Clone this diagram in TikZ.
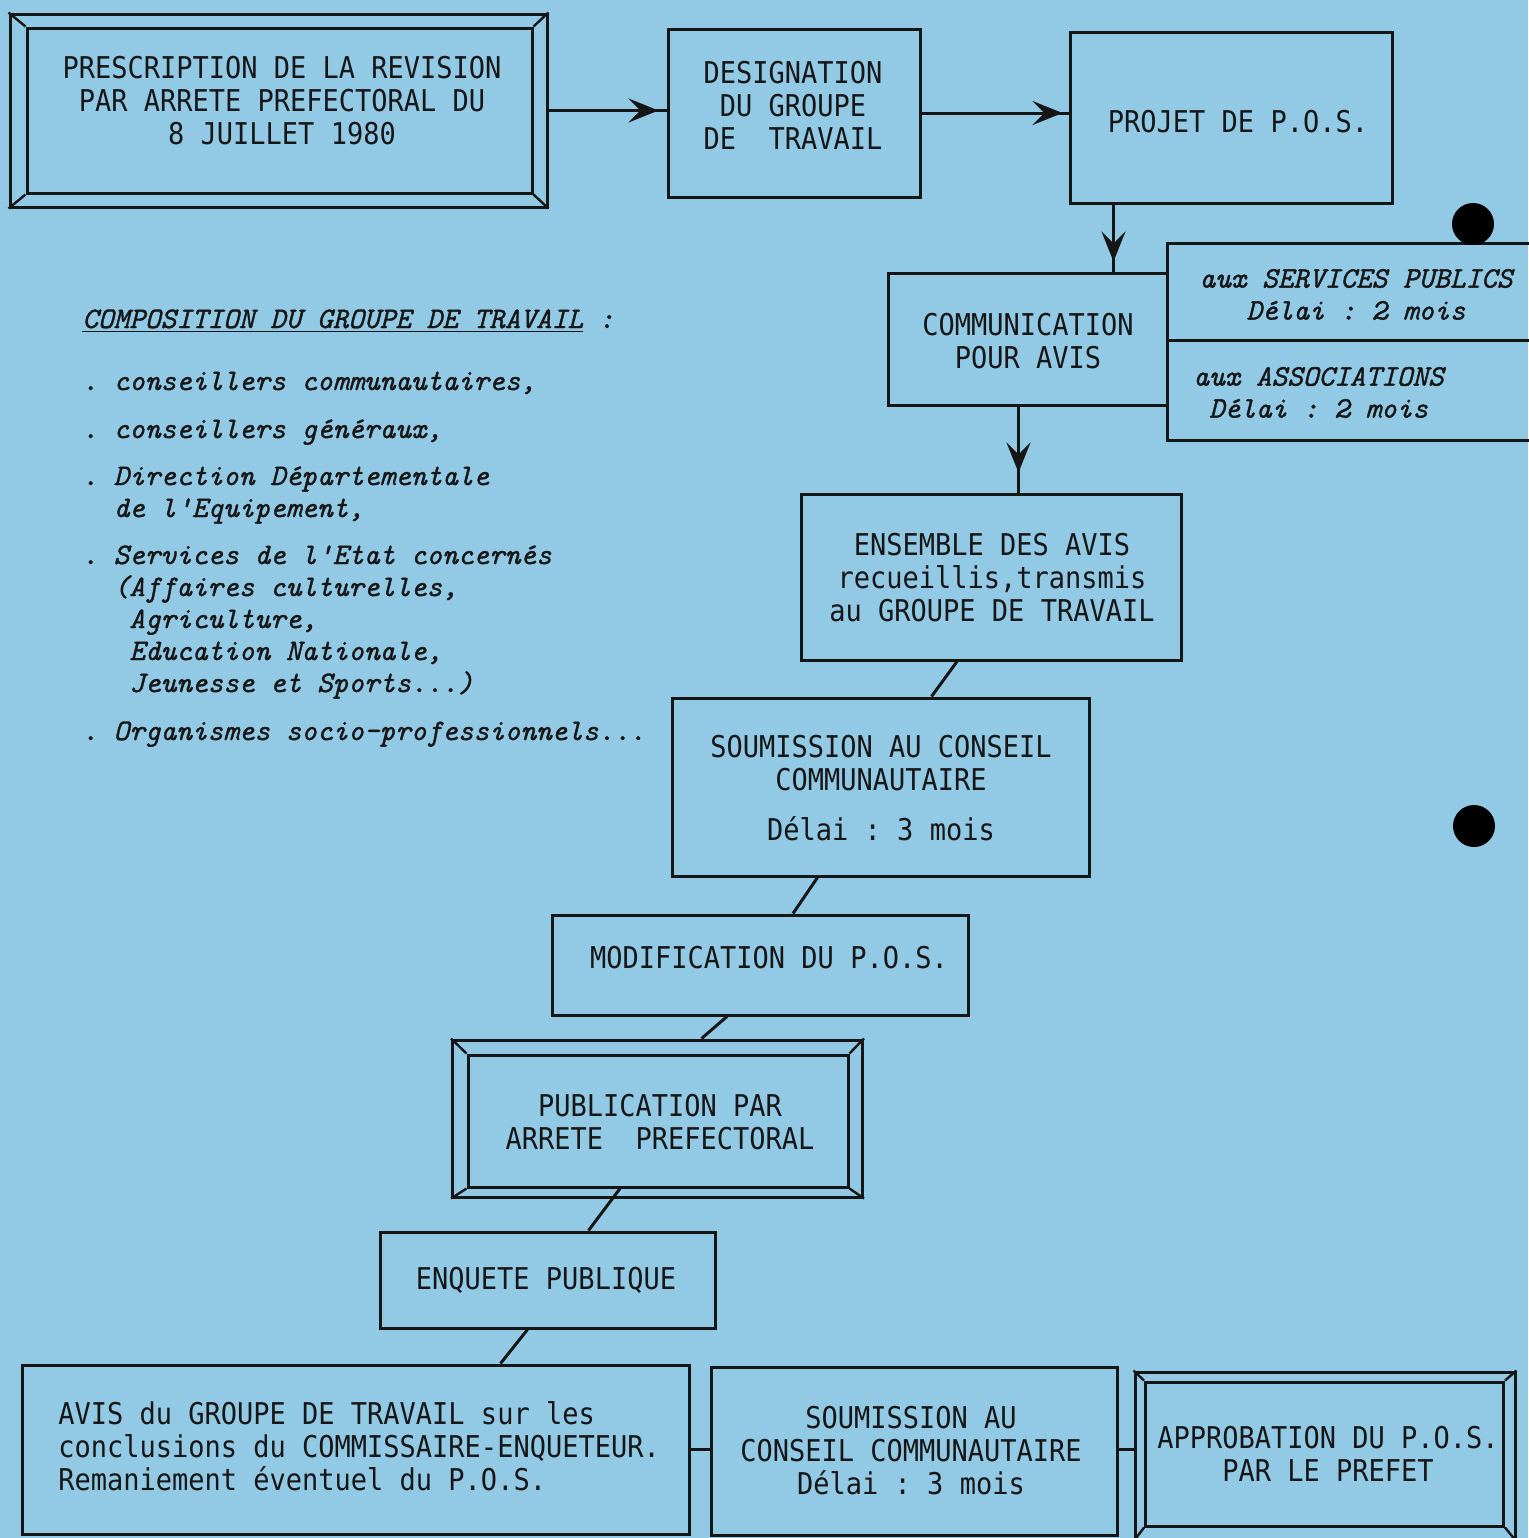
\documentclass[tikz,border=0pt]{standalone}
\usepackage{fontspec}
\newfontfamily\boxfont[FakeStretch=0.9]{DejaVu Sans Mono}
\newfontfamily\listfont[FakeBold=1.2]{Latin Modern Mono}
\usetikzlibrary{arrows.meta,calc}
\definecolor{paper}{RGB}{146,201,229}
\definecolor{ink}{RGB}{22,22,22}
\begin{document}
\frenchspacing
\begin{tikzpicture}[x=0.5pt,y=-0.5pt,
  box/.style={draw=ink,line width=1.5pt,inner sep=0pt,rectangle},
  txt/.style={text=ink,align=center,inner sep=0pt,font=\boxfont\frenchspacing\fontsize{15}{16.5}\selectfont},
  ltxt/.style={text=ink,align=left,inner sep=0pt,font=\boxfont\frenchspacing\fontsize{15}{16.5}\selectfont},
  itxt/.style={text=ink,inner sep=0pt,font=\listfont\itshape\frenchspacing\fontsize{14.9}{16}\selectfont},
  conn/.style={draw=ink,line width=1.5pt},
  arr/.style={draw=ink,line width=1.5pt,-{Stealth[length=15pt,width=12pt,inset=6pt]}}]
\fill[paper] (0,0) rectangle (1528,1538);
\useasboundingbox (0,0) rectangle (1528,1538);

% ---------- boxes ----------
\node[box,minimum width=268.5pt,minimum height=96.5pt] (presc) at (278.5,110.5) {};
\node[box,minimum width=252.5pt,minimum height=82.5pt] (presc-in) at (279.5,110.5) {};
\node[box,minimum width=126pt,minimum height=84pt] (desig) at (794,113) {};
\node[box,minimum width=161pt,minimum height=85.5pt] (projet) at (1231,117.5) {};
\node[box,minimum width=139.5pt,minimum height=66pt] (comm) at (1027.5,339) {};
\node[box,minimum width=186.5pt,minimum height=48.5pt] (serv) at (1353.5,291.5) {};
\node[box,minimum width=186.5pt,minimum height=50pt] (assoc) at (1353.5,390) {};
\node[box,minimum width=190pt,minimum height=83pt] (ens) at (991,577) {};
\node[box,minimum width=208.5pt,minimum height=89pt] (soum) at (880.5,787) {};
\node[box,minimum width=208pt,minimum height=50pt] (modif) at (760,965) {};
\node[box,minimum width=205pt,minimum height=78.5pt] (pub) at (657.5,1118.5) {};
\node[box,minimum width=190pt,minimum height=66pt] (pub-in) at (658,1121) {};
\node[box,minimum width=167.5pt,minimum height=48pt] (enq) at (547.5,1280) {};
\node[box,minimum width=333.5pt,minimum height=84.5pt] (avis) at (355.5,1449.5) {};
\node[box,minimum width=203pt,minimum height=84pt] (soum2) at (914,1451) {};
\node[box,minimum width=190pt,minimum height=84pt] (approb) at (1325,1456) {};
\node[box,minimum width=179pt,minimum height=72pt] (approb-in) at (1324.5,1454) {};

% bevel corners of double frames
\foreach \o/\i in {presc/presc-in,pub/pub-in,approb/approb-in}{
  \draw[conn,line width=1.2pt] (\o.north west) -- (\i.north west);
  \draw[conn,line width=1.2pt] (\o.north east) -- (\i.north east);
  \draw[conn,line width=1.2pt] (\o.south west) -- (\i.south west);
  \draw[conn,line width=1.2pt] (\o.south east) -- (\i.south east);
}

% ---------- texts ----------
\node[txt] (presc-t) at (282,100.5) {PRESCRIPTION DE LA REVISION\\PAR ARRETE PREFECTORAL DU\\8 JUILLET 1980};
\node[txt] (desig-t) at (793,105) {DESIGNATION\\DU GROUPE\\DE~~TRAVAIL};
\node[txt] (projet-t) at (1238,122) {PROJET DE P.O.S.};
\node[txt] (comm-t) at (1028,341) {COMMUNICATION\\POUR AVIS};
\node[itxt,align=center] (serv-t) at (1356,294.5) {aux SERVICES PUBLICS\\Délai : 2 mois};
\node[itxt,align=left,anchor=west] (assoc-t) at (1193,392.5) {aux ASSOCIATIONS\\\hphantom{a}Délai : 2 mois};
\node[txt] (ens-t) at (992,578) {ENSEMBLE DES AVIS\\recueillis,transmis\\au GROUPE DE TRAVAIL};
\node[txt] (soum-t) at (881,788.5) {SOUMISSION AU CONSEIL\\COMMUNAUTAIRE\\[8.5pt]Délai : 3 mois};
\node[txt] (modif-t) at (769,958) {MODIFICATION DU P.O.S.};
\node[txt] (pub-t) at (660,1122.5) {PUBLICATION PAR\\ARRETE~~PREFECTORAL};
\node[txt] (enq-t) at (546,1280) {ENQUETE PUBLIQUE};
\node[ltxt,anchor=west] (avis-t) at (58,1446) {AVIS du GROUPE DE TRAVAIL sur les\\conclusions du COMMISSAIRE-ENQUETEUR.\\Remaniement éventuel du P.O.S.};
\node[txt] (soum2-t) at (911,1451) {SOUMISSION AU\\CONSEIL COMMUNAUTAIRE\\Délai : 3 mois};
\node[txt] (approb-t) at (1328,1454) {APPROBATION DU P.O.S.\\PAR LE PREFET};

% composition list
\node[itxt,anchor=base west] (title) at (82,328) {\underline{COMPOSITION DU GROUPE DE TRAVAIL}~:};
\node[itxt,anchor=base west] (l1) at (82,390) {. conseillers communautaires,};
\node[itxt,anchor=base west] (l2) at (82,438) {. conseillers généraux,};
\node[itxt,anchor=base west] (l3) at (82,485) {. Direction Départementale};
\node[itxt,anchor=base west] (l4) at (113.3,517) {de l'Equipement,};
\node[itxt,anchor=base west] (l5) at (82,564) {. Services de l'Etat concernés};
\node[itxt,anchor=base west] (l6) at (113.3,596) {(Affaires culturelles,};
\node[itxt,anchor=base west] (l7) at (129,628) {Agriculture,};
\node[itxt,anchor=base west] (l8) at (129,660) {Education Nationale,};
\node[itxt,anchor=base west] (l9) at (129,692) {Jeunesse et Sports...)};
\node[itxt,anchor=base west] (l10) at (82,740) {. Organismes socio-professionnels...};

% ---------- connectors ----------
\coordinate (p-out) at ($(projet.south west)+(45,0)$);
\coordinate (c-in) at (p-out |- comm.north);
\coordinate (c-out) at ($(comm.south)+(-9,0)$);
\coordinate (e-in) at (c-out |- ens.north);
\draw[conn] (presc.east) -- (presc.east -| desig.west);
\draw[arr,shorten >=4pt] (presc.east) -- (presc.east -| desig.west);
\draw[conn] (desig.east) -- (desig.east -| projet.west);
\draw[arr,shorten >=3pt] (desig.east) -- (desig.east -| projet.west);
\draw[conn] (p-out) -- (c-in);
\draw[arr,shorten >=5pt] (p-out) -- (c-in);
\draw[conn] (c-out) -- (e-in);
\draw[arr,shorten >=10pt] (c-out) -- (e-in);
\draw[conn] ($(ens.south)+(-34,0)$) -- ($(soum.north)+(51,0)$);
\draw[conn] ($(soum.south)+(-63,0)$) -- ($(modif.north)+(33,0)$);
\draw[conn] ($(modif.south)+(-33,0)$) -- ($(pub.north)+(44,0)$);
\draw[conn] ($(pub-in.south)+(-38,0)$) -- ($(enq.north)+(41,0)$);
\draw[conn] ($(enq.south)+(-20,0)$) -- ($(avis.north)+(145,0)$);
\draw[conn] (avis.east) -- (avis.east -| soum2.west);
\draw[conn] (soum2.east |- avis.east) -- (avis.east -| approb.west);

% punch holes
\fill[black] (1473,224) circle[radius=21];
\fill[black] (1474,826) circle[radius=21];
\end{tikzpicture}
\end{document}
